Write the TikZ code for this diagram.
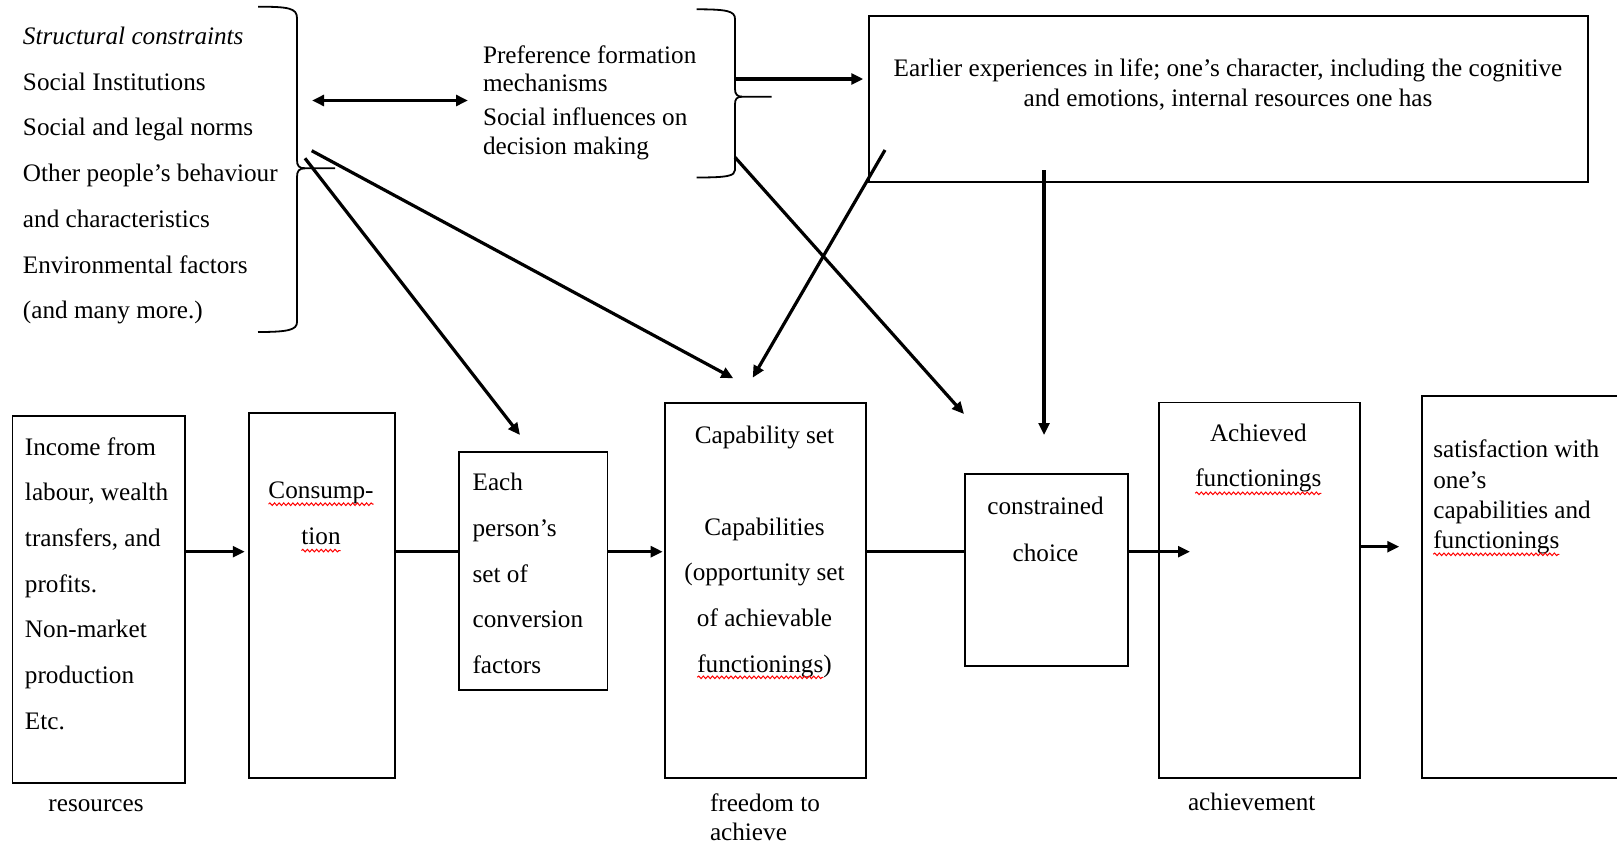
\documentclass[tikz,border=0pt]{standalone}
\usepackage{fontspec}
\setmainfont{Liberation Serif}
\usetikzlibrary{arrows.meta,decorations.pathmorphing,calc}

\begin{document}
\begin{tikzpicture}[x=0.5pt,y=-0.5pt,
  every node/.style={inner sep=0pt,outer sep=0pt},
  txt/.style={anchor=base west,font=\fontsize{12.6pt}{15pt}\selectfont},
  ctxt/.style={anchor=base,font=\fontsize{12.6pt}{15pt}\selectfont},
  box/.style={draw,line width=0.9pt,anchor=north west,rectangle},
  arr/.style={line width=1.6pt,-{Triangle[length=6pt,width=5.4pt]}},
  darr/.style={line width=1.6pt,{Triangle[length=6pt,width=5.4pt]}-{Triangle[length=6pt,width=5.4pt]}},
  lnk/.style={line width=1.6pt},
  brace/.style={line width=0.9pt},
  spell/.style={red,line width=0.5pt,decorate,
    decoration={snake,amplitude=0.65pt,segment length=2.3pt}}
]
\useasboundingbox (0,0) rectangle (1617,846);
\fill[white] (0,0) rectangle (1617,846);
\clip (0,0) rectangle (1617,846);

% ---------- structural constraints (left list) ----------
\node[txt] (sc1) at (23,44.5)  {\itshape Structural constraints};
\node[txt] (sc2) at (23,90.2)  {Social Institutions};
\node[txt] (sc3) at (23,135.9) {Social and legal norms};
\node[txt] (sc4) at (23,181.6) {Other people’s behaviour};
\node[txt] (sc5) at (23,227.3) {and characteristics};
\node[txt] (sc6) at (23,273)   {Environmental factors};
\node[txt] (sc7) at (23,318.7) {(and many more.)};

% right brace round the list
\draw[brace] (258,6.7) .. controls (288,6.7) and (297,8) .. (297,18)
  -- (297,160) .. controls (297,166) and (299,168.3) .. (305,168.3) -- (335,168.3);
\draw[brace] (305,168.3) .. controls (299,168.3) and (297,171) .. (297,177)
  -- (297,322) .. controls (297,330) and (288,332) .. (258,332);

% ---------- preference formation ----------
\node[txt] (pf1) at (483,63.3)  {Preference formation};
\node[txt] (pf2) at (483,91.7)  {mechanisms};
\node[txt] (pf3) at (483,125)   {Social influences on};
\node[txt] (pf4) at (483,154)   {decision making};

\draw[brace] (696.7,9.3) .. controls (727,9.3) and (735,11) .. (735,19)
  -- (735,89) .. controls (735,94) and (737,96.7) .. (742,96.7) -- (771.7,96.7);
\draw[brace] (742,96.7) .. controls (737,96.7) and (735,99) .. (735,104)
  -- (735,170) .. controls (735,176) and (727,177.5) .. (696.7,177.5);

% ---------- earlier experiences ----------
\node[box,minimum width=359.5pt,minimum height=83pt] (earlier) at (869.3,15.7) {};
\node[ctxt] (ex1) at (1228,76.5) {Earlier experiences in life; one’s character, including the cognitive};
\node[ctxt] (ex2) at (1228,106)  {and emotions, internal resources one has};

% ---------- main chain of boxes ----------
\node[box,minimum width=86.45pt,minimum height=183.35pt] (income) at (12.4,416) {};
\node[txt] (in1) at (25,455)   {Income from};
\node[txt] (in2) at (25,500.7) {labour, wealth};
\node[txt] (in3) at (25,546.4) {transfers, and};
\node[txt] (in4) at (25,592.1) {profits.};
\node[txt] (in5) at (25,637.8) {Non-market};
\node[txt] (in6) at (25,683.5) {production};
\node[txt] (in7) at (25,729.2) {Etc.};
\node[ctxt] (res) at (96,811) {resources};

\node[box,minimum width=73.1pt,minimum height=182.8pt] (cons) at (248.8,412.7) {};
\node[ctxt] (cons1) at (321,498) {Consump-};
\node[ctxt] (cons2) at (321,544) {tion};

\node[box,minimum width=74.2pt,minimum height=118.85pt] (each) at (459,452.3) {};
\node[txt] (ea1) at (472.6,490.7) {Each};
\node[txt] (ea2) at (472.6,536.4) {person’s};
\node[txt] (ea3) at (472.6,582.1) {set of};
\node[txt] (ea4) at (472.6,627.8) {conversion};
\node[txt] (ea5) at (472.6,673.5) {factors};

\node[box,minimum width=100.5pt,minimum height=187.8pt] (cap) at (665,402.7) {};
\node[ctxt] (cap1) at (764.5,443)   {Capability set};
\node[ctxt] (cap2) at (764.5,535)   {Capabilities};
\node[ctxt] (cap3) at (764.5,580.7) {(opportunity set};
\node[ctxt] (cap4) at (764.5,626.4) {of achievable};
\node[ctxt] (capf) at (764.5,672.1) {functionings)};
\node[txt] (fr1) at (710,811.5) {freedom to};
\node[txt] (fr2) at (710,840)   {achieve};

\node[box,minimum width=81.35pt,minimum height=95.85pt] (choice) at (965,474.3) {};
\node[ctxt] (ch1) at (1045.5,514.5) {constrained};
\node[ctxt] (ch2) at (1045.5,561)   {choice};

\node[box,minimum width=100.5pt,minimum height=187.9pt] (achieved) at (1159,402.5) {};
\node[ctxt] (ac1) at (1258.3,441)   {Achieved};
\node[ctxt] (achf) at (1258.3,486.7) {functionings};
\node[ctxt] (ach) at (1251.7,810) {achievement};

\node[box,minimum width=150pt,minimum height=191.15pt] (satis) at (1421.7,396) {};
\node[txt] (sa1) at (1433.3,457.3) {satisfaction with};
\node[txt] (sa2) at (1433.3,488.3) {one’s};
\node[txt] (sa3) at (1433.3,518.3) {capabilities and};
\node[txt] (satf) at (1433.3,548.3) {functionings};

% spelling marks under words
\draw[spell] ([yshift=-3.1pt]cons1.base west) -- ([yshift=-3.1pt]cons1.base east);
\draw[spell] ([yshift=-3.3pt]cons2.base west) -- ([yshift=-3.3pt]cons2.base east);
\draw[spell] ([yshift=-2.6pt]capf.base west) -- ($([yshift=-2.6pt]capf.base east)+(-8.4,0)$);
\draw[spell] ([yshift=-3.3pt]achf.base west) -- ([yshift=-3.3pt]achf.base east);
\draw[spell] ([yshift=-3pt]satf.base west) -- ([yshift=-3pt]satf.base east);

% ---------- connectors ----------
\coordinate (flow) at (0,551.7);
\draw[arr] (income.east |- flow) -- ($(cons.west |- flow)+(-4,0)$);
\draw[lnk] (cons.east |- flow) -- (each.west |- flow);
\draw[arr] (each.east |- flow) -- ($(cap.west |- flow)+(-2.3,0)$);
\draw[lnk] (cap.east |- flow) -- (choice.west |- flow);
\draw[arr] (choice.east |- flow) -- ($(achieved.west |- flow)+(31,0)$);
\draw[arr] ($(achieved.east |- flow)+(0,-5)$) -- ($(satis.west |- flow)+(-22.4,-5)$);

% between the two braces, and on to the box of experiences
\coordinate (b1r) at (312,100.5);
\coordinate (pfl) at (468,100.5);
\draw[darr] (b1r) -- (pfl);
\coordinate (b2o) at (735,79);
\draw[arr] (b2o) -- ($(earlier.west |- b2o)+(-6,0)$);

% influences reaching down into the chain
\coordinate (l1s) at (311.7,150.7);
\coordinate (l2s) at (305,158.3);
\coordinate (l3s) at (885,150);
\coordinate (l4s) at (735,157.3);
\draw[arr] (l1s) -- ($(cap.north)+(-32.2,-24.4)$);
\draw[arr] (l2s) -- ($(each.north)+(-13.2,-17.3)$);
\draw[arr] (l3s) -- ($(cap.north)+(-12.8,-25)$);
\draw[arr] (l4s) -- ($(choice.north west)+(-1,-60.3)$);
\draw[arr] ($(earlier.south -| choice.north)+(-2.3,-11.7)$) -- ($(choice.north)+(-2.3,-39.3)$);
\end{tikzpicture}
\end{document}
